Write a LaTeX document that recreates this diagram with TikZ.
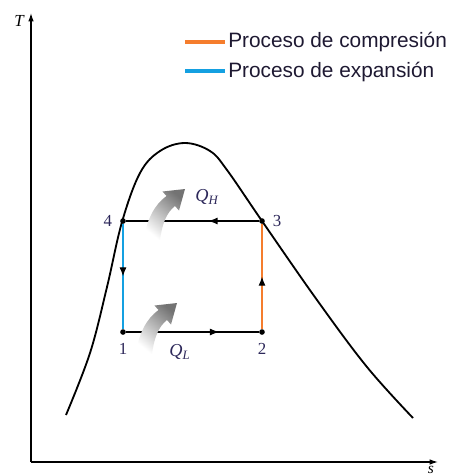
\documentclass[tikz,border=0pt]{standalone}
\usepackage{fontspec}
\setmainfont{Liberation Serif}
\setsansfont{Liberation Sans}
\usetikzlibrary{arrows.meta,decorations.markings}

\definecolor{compcol}{RGB}{245,125,45}
\definecolor{expcol}{RGB}{20,160,225}
\definecolor{labcol}{RGB}{45,40,90}
\definecolor{legcol}{RGB}{30,25,50}

\tikzset{
  state/.style={circle,fill=black,inner sep=0pt,minimum size=4pt},
  statelab/.style={text=labcol,font=\fontsize{12}{14}\selectfont},
  heatlab/.style={text=labcol,font=\itshape\fontsize{13}{15}\selectfont},
  cycleline/.style={line width=0.9pt},
  midarrow/.style={postaction={decorate},
    decoration={markings,mark=at position #1 with {\arrow[black]{Latex[length=6.5pt,width=5pt]}}}},
  heat/.style={bottom color=white,top color=black!55,shading angle=-40},
  legline/.style={line width=2.6pt},
  legtext/.style={anchor=base west,inner sep=0pt,text=legcol,font=\sffamily\fontsize{14.8}{17}\selectfont},
  heatarrow/.pic={
    \shade[heat] (-41,49) .. controls (-38,31) and (-31,16) .. (-18.5,7)
      -- (-22.5,2.5) -- (0,0) -- (-6,21.5) -- (-10,17)
      .. controls (-19,24) and (-23,36) .. (-25,51) -- cycle;
  }
}

\begin{document}
\begin{tikzpicture}[>={Latex[length=6pt,width=4pt]},x=0.025cm,y=-0.025cm]
  \useasboundingbox (0,0) rectangle (454,476);
  % axes
  \coordinate (o) at (31,462);
  \coordinate (tend) at (31,13);
  \coordinate (send) at (438,462);
  \draw[->,line width=0.9pt] (o) -- (tend);
  \draw[->,line width=0.9pt] (o) -- (send);
  \node[font=\itshape\fontsize{12}{14}\selectfont] (tlab) at (19,21) {T};
  \node[anchor=north,inner sep=0pt,font=\itshape\fontsize{11}{13}\selectfont] (slab) at (431,466) {s};

  % legend
  \coordinate (leg1a) at (185,42);
  \coordinate (leg1b) at (225,42);
  \coordinate (leg2a) at (185,71);
  \coordinate (leg2b) at (225,71);
  \draw[legline,compcol] (leg1a) -- (leg1b);
  \draw[legline,expcol] (leg2a) -- (leg2b);
  \node[legtext] (comptxt) at (228,47) {Proceso de compresión};
  \node[legtext] (exptxt) at (228,77) {Proceso de expansión};

  % saturation dome
  \draw[line width=1.3pt] plot[smooth,tension=0.6] coordinates {
    (66,415) (90,353) (107,287) (122,222) (140,173) (160,151) (185,143)
    (210,151) (227,170) (262,221) (317,300) (367,367) (413,418)};

  % cycle
  \node[state,label={[statelab,label distance=2pt]left:4}] (p4) at (123,221) {};
  \node[state,label={[statelab,label distance=2pt]right:3}] (p3) at (262,221) {};
  \node[state,label={[statelab,label distance=2pt]below:1}] (p1) at (123,332) {};
  \node[state,label={[statelab,label distance=2pt]below:2}] (p2) at (262,332) {};
  \draw[cycleline,midarrow=0.38] (p3) -- (p4);
  \draw[cycleline,expcol,midarrow=0.5] (p4) -- (p1);
  \draw[cycleline,midarrow=0.7] (p1) -- (p2);
  \draw[cycleline,compcol,midarrow=0.5] (p2) -- (p3);

  % heat
  \pic (qh) at (185,189) {heatarrow};
  \pic (ql) at (177,303) {heatarrow};
  \node[heatlab] (qhlab) at (207,197) {Q\textsubscript{H}};
  \node[heatlab] (qllab) at (180,352) {Q\textsubscript{L}};
\end{tikzpicture}
\end{document}
